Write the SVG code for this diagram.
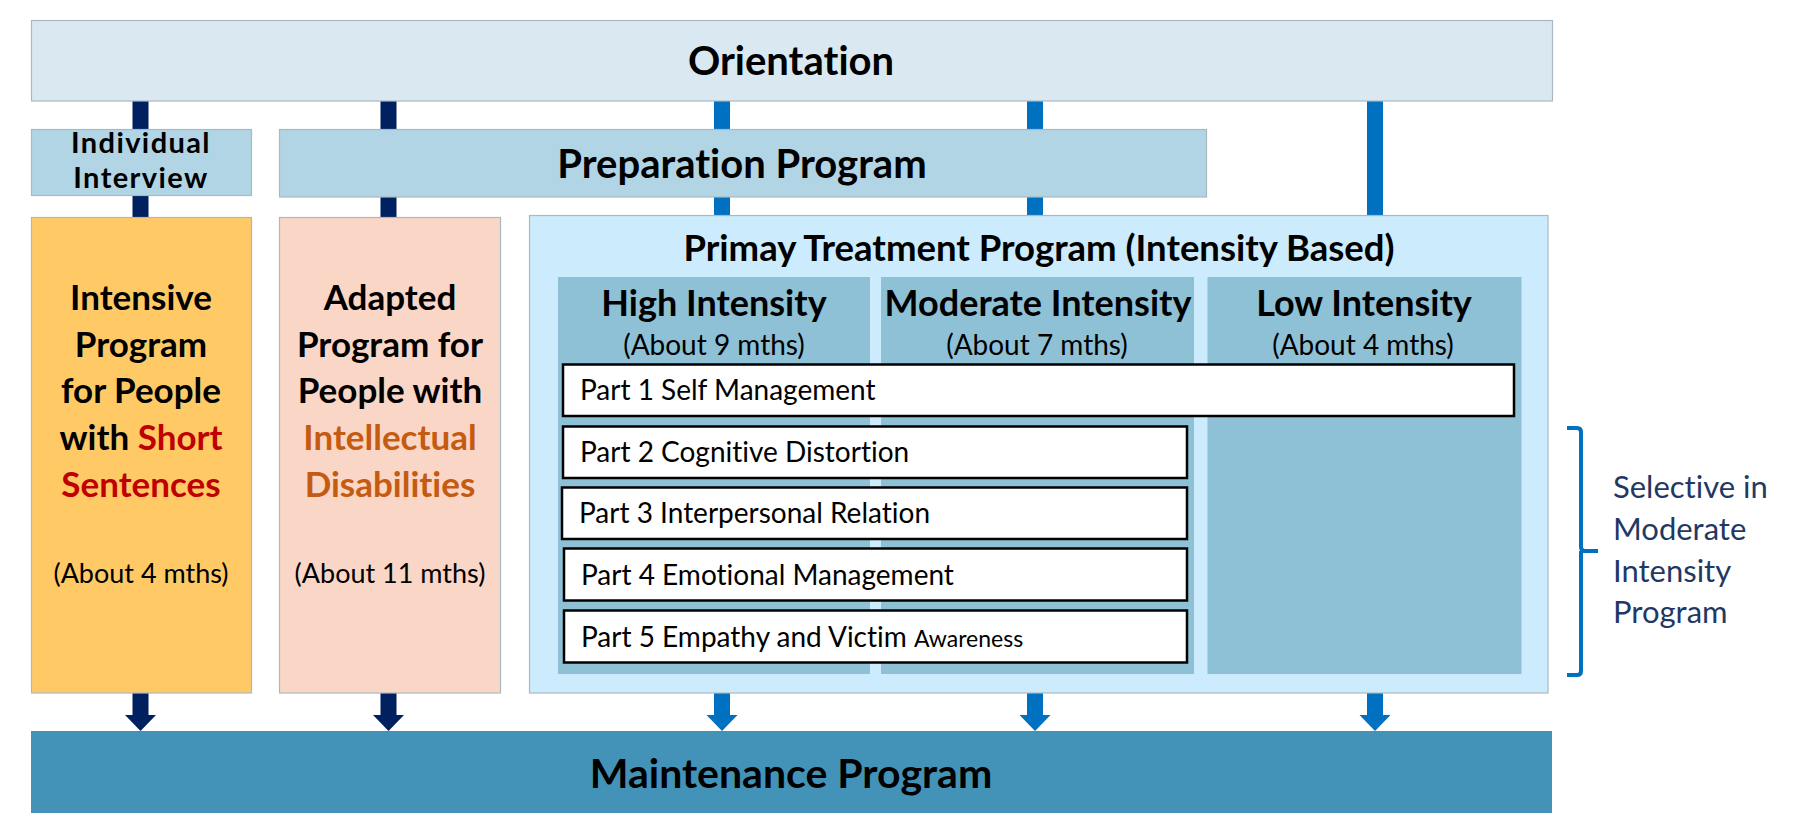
<svg xmlns="http://www.w3.org/2000/svg" width="1795" height="837" viewBox="0 0 1795 837">
<style>
text{font-variant-ligatures:none}
.b{font-family:Lato,"Open Sans","Liberation Sans",sans-serif;font-weight:bold;fill:#000;text-anchor:middle}
.r{font-family:Lato,"Open Sans","Liberation Sans",sans-serif;font-weight:normal;fill:#000;text-anchor:middle}
.p{font-family:Lato,"Open Sans","Liberation Sans",sans-serif;font-weight:normal;fill:#000;font-size:28px}
.red{fill:#C00000}
.org{fill:#C55A11}
.box{stroke:#AAB9C1;stroke-width:1.2}
.part{fill:#fff;stroke:#000;stroke-width:2.5}
.dk{stroke:#002060;stroke-width:16;fill:none}
.bl{stroke:#0070C0;stroke-width:16;fill:none}
</style>
<defs>
<marker id="ad" viewBox="0 -16 17 32" markerWidth="17" markerHeight="32" refX="0" refY="0" orient="auto" markerUnits="userSpaceOnUse"><path d="M0,-15.5 L16,0 L0,15.5 z" fill="#002060"/></marker>
<marker id="ab" viewBox="0 -16 17 32" markerWidth="17" markerHeight="32" refX="0" refY="0" orient="auto" markerUnits="userSpaceOnUse"><path d="M0,-15.5 L16,0 L0,15.5 z" fill="#0070C0"/></marker>
</defs>
<rect width="1795" height="837" fill="#fff"/>
<g id="connectors">
<line class="dk" x1="140.5" y1="101" x2="140.5" y2="715" marker-end="url(#ad)"/>
<line class="dk" x1="388.5" y1="101" x2="388.5" y2="715" marker-end="url(#ad)"/>
<line class="bl" x1="722" y1="101" x2="722" y2="715" marker-end="url(#ab)"/>
<line class="bl" x1="1035" y1="101" x2="1035" y2="715" marker-end="url(#ab)"/>
<line class="bl" x1="1375" y1="101" x2="1375" y2="715" marker-end="url(#ab)"/>
</g>
<g id="orientation">
<rect class="box" x="31.5" y="20.5" width="1521" height="80.5" fill="#DAE9F1"/>
<text class="b" x="791" y="75" font-size="40">Orientation</text>
</g>
<g id="individual-interview">
<rect class="box" x="31.5" y="129.5" width="220" height="66" fill="#B1D5E4"/>
<text class="b" x="141" y="153" font-size="29" letter-spacing="1.4">Individual</text>
<text class="b" x="141" y="188" font-size="29" letter-spacing="1.4">Interview</text>
</g>
<g id="preparation">
<rect class="box" x="279.5" y="129.5" width="927" height="67.5" fill="#B1D5E4"/>
<text class="b" x="742" y="178" font-size="40">Preparation Program</text>
</g>
<g id="intensive">
<rect class="box" x="31.5" y="217.5" width="220" height="475.5" fill="#FFCA66"/>
<text class="b" x="141" y="310" font-size="35">Intensive</text>
<text class="b" x="141" y="357" font-size="35">Program</text>
<text class="b" x="141" y="403" font-size="35">for People</text>
<text class="b" x="141" y="450" font-size="35">with <tspan class="red">Short</tspan></text>
<text class="b" x="141" y="497" font-size="35"><tspan class="red">Sentences</tspan></text>
<text class="r" x="141" y="583" font-size="27">(About 4 mths)</text>
</g>
<g id="adapted">
<rect class="box" x="279.5" y="217.5" width="221" height="475.5" fill="#FAD6C6"/>
<text class="b" x="390" y="310" font-size="35">Adapted</text>
<text class="b" x="390" y="357" font-size="35">Program for</text>
<text class="b" x="390" y="403" font-size="35">People with</text>
<text class="b" x="390" y="450" font-size="35"><tspan class="org">Intellectual</tspan></text>
<text class="b" x="390" y="497" font-size="35"><tspan class="org">Disabilities</tspan></text>
<text class="r" x="390" y="583" font-size="27">(About 11 mths)</text>
</g>
<g id="primary-treatment">
<rect class="box" x="529.5" y="215.5" width="1018.5" height="477.5" fill="#CCEBFC"/>
<text class="b" x="1039" y="261" font-size="36.5">Primay Treatment Program (Intensity Based)</text>
</g>
<g id="high-intensity">
<rect x="558" y="277" width="312" height="397" fill="#8EC0D6"/>
<text class="b" x="714" y="316" font-size="36">High Intensity</text>
<text class="r" x="714" y="355" font-size="28">(About 9 mths)</text>
</g>
<g id="moderate-intensity">
<rect x="881" y="277" width="313" height="397" fill="#8EC0D6"/>
<text class="b" x="1038" y="316" font-size="36">Moderate Intensity</text>
<text class="r" x="1037" y="355" font-size="28">(About 7 mths)</text>
</g>
<g id="low-intensity">
<rect x="1207.5" y="277" width="314" height="397" fill="#8EC0D6"/>
<text class="b" x="1364" y="316" font-size="36">Low Intensity</text>
<text class="r" x="1363" y="355" font-size="28">(About 4 mths)</text>
</g>
<g id="part1">
<rect class="part" x="563" y="364.5" width="951" height="51.5"/>
<text class="p" x="580" y="400">Part 1 Self Management</text>
</g>
<g id="part2">
<rect class="part" x="563" y="426.5" width="624" height="51.5"/>
<text class="p" x="580" y="462">Part 2 Cognitive Distortion</text>
</g>
<g id="part3">
<rect class="part" x="562" y="487.5" width="625" height="51.5"/>
<text class="p" x="579" y="523">Part 3 Interpersonal Relation</text>
</g>
<g id="part4">
<rect class="part" x="564" y="548.5" width="623" height="52"/>
<text class="p" x="581" y="585">Part 4 Emotional Management</text>
</g>
<g id="part5">
<rect class="part" x="564" y="610.5" width="623" height="52"/>
<text class="p" x="581" y="647">Part 5 Empathy and Victim <tspan font-size="23">Awareness</tspan></text>
</g>
<g id="selective-note">
<path d="M1567,428 L1577,428 Q1581,428 1581,432 L1581,547 Q1581,551 1586,551 L1598,551 M1581,551 L1581,671 Q1581,675 1577,675 L1567,675" fill="none" stroke="#0070C0" stroke-width="4"/>
<text font-family="Lato,'Open Sans','Liberation Sans',sans-serif" font-size="31" fill="#1F3864">
<tspan x="1613" y="498">Selective in</tspan>
<tspan x="1613" y="540">Moderate</tspan>
<tspan x="1613" y="582">Intensity</tspan>
<tspan x="1613" y="623">Program</tspan>
</text>
</g>
<g id="maintenance">
<rect x="31" y="731" width="1521" height="82" fill="#4393B8"/>
<text class="b" x="791" y="788" font-size="41">Maintenance Program</text>
</g>
</svg>
